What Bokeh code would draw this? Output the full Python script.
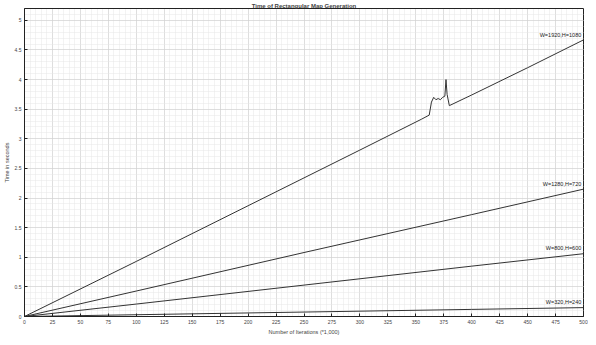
from bokeh.plotting import figure
from bokeh.models import Range1d, SingleIntervalTicker
from bokeh.embed import file_html
from bokeh.resources import INLINE
from bokeh.core.properties import value

title = "Time of Rectangular Map Generation"
x_label = "Number of Iterations (*1,000)"
y_label = "Time in seconds"

# Series (x in thousands of iterations, y in seconds)
x_1920 = [0, 100, 200, 300, 355, 362, 364, 366, 368, 370, 372, 374, 376, 377, 378, 380, 400, 450, 500]
y_1920 = [0, 0.93, 1.87, 2.81, 3.33, 3.40, 3.62, 3.70, 3.66, 3.68, 3.66, 3.70, 3.72, 4.00, 3.75, 3.56, 3.74, 4.20, 4.67]
x_1280 = [0, 100, 250, 400, 500]
y_1280 = [0, 0.43, 1.08, 1.72, 2.15]
x_800 = [0, 100, 250, 400, 500]
y_800 = [0, 0.21, 0.53, 0.85, 1.06]
x_320 = [0, 100, 250, 400, 500]
y_320 = [0, 0.03, 0.075, 0.12, 0.15]

series_labels = ["W=1920,H=1080", "W=1280,H=720", "W=800,H=600", "W=320,H=240"]
label_x = [498, 498, 498, 498]
label_y = [4.70, 2.19, 1.10, 0.19]

FONT = "Liberation Sans"

p = figure(width=588, height=337, output_backend="svg", toolbar_location=None,
           x_range=Range1d(0, 500), y_range=Range1d(0, 5.2),
           min_border_left=22, min_border_right=5, min_border_bottom=20, min_border_top=0,
           title=title)
p.title.text_font = FONT
p.title.text_font_size = "6px"
p.title.text_font_style = "bold"
p.title.align = "center"
p.title.standoff = 0
p.title.offset = 0

p.outline_line_color = "#222222"
p.outline_line_width = 1
p.background_fill_color = "white"

p.xaxis.ticker = SingleIntervalTicker(interval=25, num_minor_ticks=5)
p.yaxis.ticker = SingleIntervalTicker(interval=0.5, num_minor_ticks=5)
for ax in (p.xaxis[0], p.yaxis[0]):
    ax.major_tick_in = 3
    ax.major_tick_out = 0
    ax.minor_tick_in = 0
    ax.minor_tick_out = 0
    ax.major_label_text_font = FONT
    ax.major_label_text_font_size = "5px"
    ax.major_label_standoff = 3
    ax.axis_label_text_font = FONT
    ax.axis_label_text_font_size = "5.5px"
    ax.axis_label_text_font_style = "normal"
    ax.axis_label_standoff = 2
    ax.axis_line_color = "#222222"
    ax.major_tick_line_color = "#222222"
p.xaxis.axis_label = x_label
p.yaxis.axis_label = y_label

p.xgrid.grid_line_color = "#c8c8c8"
p.xgrid.grid_line_dash = "1 1"
p.ygrid.grid_line_color = "#c8c8c8"
p.ygrid.grid_line_dash = "1 1"
p.xgrid.minor_grid_line_color = "#e6e6e6"
p.xgrid.minor_grid_line_dash = "1 1"
p.ygrid.minor_grid_line_color = "#e6e6e6"
p.ygrid.minor_grid_line_dash = "1 1"

for xs, ys in ((x_1920, y_1920), (x_1280, y_1280), (x_800, y_800), (x_320, y_320)):
    p.line(xs, ys, line_color="#333333", line_width=1)

p.text(x=label_x, y=label_y, text=series_labels, text_font=value(FONT), text_font_size="5.5px",
       text_align="right", text_baseline="bottom", text_color="#222222")

open("out.html", "w").write(file_html(p, INLINE))
